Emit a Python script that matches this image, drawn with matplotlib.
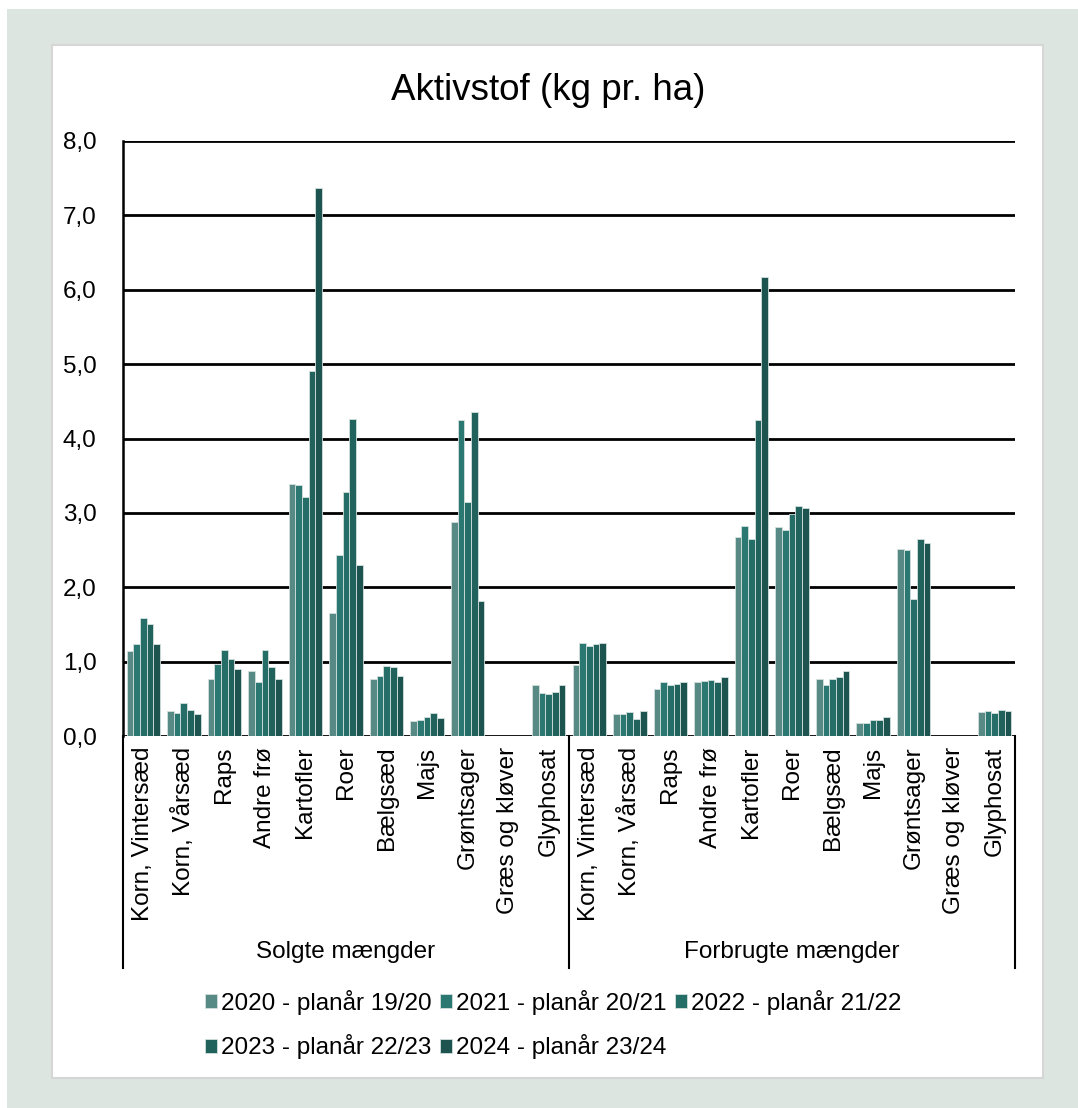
import numpy as np
import matplotlib
matplotlib.use("Agg")
import matplotlib.pyplot as plt
from matplotlib.patches import Rectangle, Patch
from matplotlib.lines import Line2D

plt.rcParams['font.family'] = ['Liberation Sans', 'DejaVu Sans']

crops = ["Korn, Vintersæd", "Korn, Vårsæd", "Raps", "Andre frø", "Kartofler",
         "Roer", "Bælgsæd", "Majs", "Grøntsager", "Græs og kløver", "Glyphosat"]
groups = ["Solgte mængder", "Forbrugte mængder"]
series = ["2020 - planår 19/20", "2021 - planår 20/21", "2022 - planår 21/22",
          "2023 - planår 22/23", "2024 - planår 23/24"]

# kg aktivstof pr. ha, one list per crop: 2020..2024
solgte = [
    [1.14, 1.24, 1.58, 1.50, 1.24],
    [0.34, 0.31, 0.45, 0.35, 0.29],
    [0.77, 0.97, 1.16, 1.03, 0.90],
    [0.87, 0.72, 1.16, 0.93, 0.76],
    [3.39, 3.37, 3.21, 4.91, 7.37],
    [1.65, 2.44, 3.28, 4.26, 2.30],
    [0.77, 0.81, 0.94, 0.93, 0.81],
    [0.20, 0.22, 0.25, 0.31, 0.24],
    [2.88, 4.25, 3.15, 4.35, 1.81],
    [0.0, 0.0, 0.0, 0.0, 0.0],
    [0.68, 0.58, 0.57, 0.59, 0.68],
]
forbrugte = [
    [0.95, 1.25, 1.21, 1.24, 1.25],
    [0.29, 0.30, 0.32, 0.23, 0.33],
    [0.63, 0.73, 0.69, 0.70, 0.73],
    [0.72, 0.74, 0.75, 0.73, 0.80],
    [2.68, 2.82, 2.65, 4.25, 6.17],
    [2.81, 2.77, 2.99, 3.09, 3.06],
    [0.76, 0.68, 0.77, 0.80, 0.88],
    [0.18, 0.18, 0.21, 0.21, 0.25],
    [2.51, 2.50, 1.84, 2.65, 2.59],
    [0.0, 0.0, 0.0, 0.0, 0.0],
    [0.32, 0.33, 0.31, 0.35, 0.34],
]

colors = ["#578A85", "#2A7871", "#256E68", "#22625D", "#1E5450"]
yticks = [0, 1, 2, 3, 4, 5, 6, 7, 8]

W, H = 1078, 1108
fig = plt.figure(figsize=(W / 100, H / 100), dpi=100)
fig.patch.set_facecolor("white")

def px(x, y):
    return x / W, 1 - y / H

# framed panel on a light green-grey backdrop
fig.patches.append(Rectangle(px(7, 1108), (W - 7) / W, (H - 9) / H,
                             transform=fig.transFigure, facecolor="#DCE5DF",
                             edgecolor="none", zorder=-2))
fig.patches.append(Rectangle(px(52, 1078), (1043 - 52) / W, (1078 - 45) / H,
                             transform=fig.transFigure, facecolor="white",
                             edgecolor="#D6D6D6", linewidth=1.5, zorder=-1))

x0, x1, yb, yt = 123, 1015, 736, 141
ax = fig.add_axes([x0 / W, 1 - yb / H, (x1 - x0) / W, (yb - yt) / H])
ax.set_zorder(2)
ax.set_facecolor("none")

data = solgte + forbrugte
labels = crops + crops
n = len(data)
pos = np.arange(n)
bw = 0.165
for k in range(len(series)):
    vals = [row[k] for row in data]
    ax.bar(pos + (k - 2) * bw, vals, width=bw, color=colors[k],
           edgecolor="#D3E0DE", linewidth=0.6, zorder=3, label=series[k])

ax.set_xlim(-0.5, n - 0.5)
ax.set_ylim(0, 8)
ax.set_yticks(yticks)
ax.set_yticklabels([f"{v:.1f}".replace(".", ",") for v in yticks], fontsize=17.5)
ax.tick_params(axis="y", length=0, pad=19)
ax.set_xticks([])
ax.grid(axis="y", color="black", linewidth=2.0, zorder=1)
ax.set_axisbelow(True)
for s in ["top", "right", "bottom"]:
    ax.spines[s].set_visible(False)
ax.spines["left"].set_color("black")
ax.spines["left"].set_linewidth(1.8)

# category labels and group separators below the axis
trans = ax.get_xaxis_transform()
for i, lab in enumerate(labels):
    ax.text(pos[i], -0.018, lab, rotation=90, ha="center", va="top",
            fontsize=17.5, transform=trans)
sep_bottom = -(968 - 736) / (yb - yt)
for xs in [-0.5, len(crops) - 0.5, n - 0.5]:
    ax.add_line(Line2D([xs, xs], [0, sep_bottom], color="black", lw=1.5,
                       transform=trans, clip_on=False))
glab_y = -(952 - 736) / (yb - yt)
for g, name in enumerate(groups):
    cx = g * len(crops) + (len(crops) - 1) / 2
    ax.text(cx, glab_y, name, ha="center", va="center", fontsize=17.5,
            transform=trans)

fig.text(*px(548, 90), "Aktivstof (kg pr. ha)", ha="center", va="center",
         fontsize=26.5)

# legend filled row by row (matplotlib fills columns first)
order = [0, 3, 1, 4, 2]
handles = [Patch(facecolor=colors[i], edgecolor="#D3E0DE", linewidth=0.6)
           for i in order]
fig.legend(handles, [series[i] for i in order], loc="upper left",
           bbox_to_anchor=px(205, 990), ncol=3, frameon=False, fontsize=17.5,
           handlelength=0.5, handleheight=0.5, handletextpad=0.15,
           columnspacing=0.35, labelspacing=0.8, borderaxespad=0, borderpad=0)

fig.savefig("out.png", dpi=100)
